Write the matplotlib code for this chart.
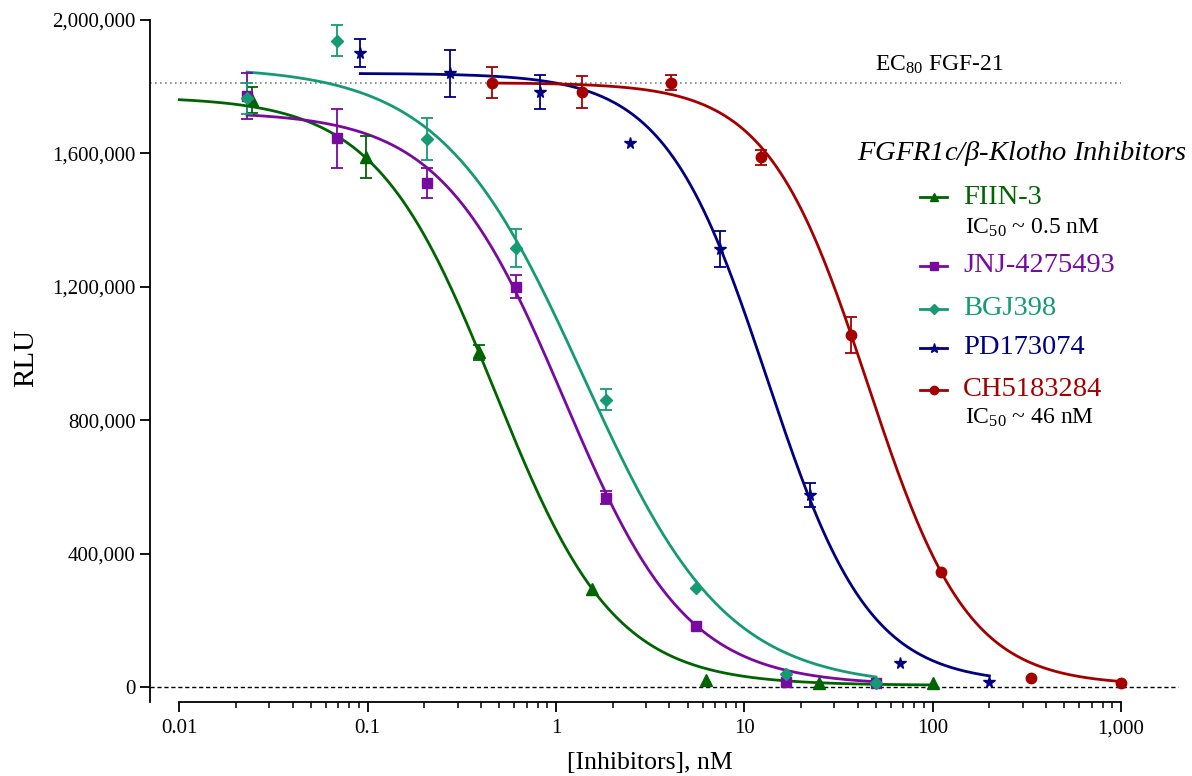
import numpy as np
import matplotlib.pyplot as plt
from matplotlib.lines import Line2D
from matplotlib.ticker import FixedLocator, FuncFormatter, NullFormatter

plt.rcParams['font.family'] = ['Liberation Serif', 'DejaVu Serif']
plt.rcParams['mathtext.fontset'] = 'custom'
plt.rcParams['mathtext.rm'] = 'Liberation Serif'
plt.rcParams['mathtext.it'] = 'Liberation Serif:italic'

## Data (concentration in nM, signal in RLU, +/- SEM)
nan = np.nan
names = ['FIIN-3', 'JNJ-4275493', 'BGJ398', 'PD173074', 'CH5183284']

fiin_x = [0.0244, 0.0977, 0.39, 1.5625, 6.25, 25, 100]
fiin_y = [1760000, 1590000, 1003000, 294000, 21000, 13000, 11000]
fiin_err = [38000, 63000, 23000, nan, nan, nan, nan]

jnj_x = [0.0229, 0.0686, 0.206, 0.617, 1.85, 5.56, 16.7, 50]
jnj_y = [1772000, 1645000, 1510000, 1200000, 568000, 183000, 14000, 13000]
jnj_err = [70000, 88000, 45000, 35000, 20000, nan, nan, nan]

bgj_x = [0.0229, 0.0686, 0.206, 0.617, 1.85, 5.56, 16.7, 50]
bgj_y = [1765000, 1938000, 1644000, 1315000, 862000, 296000, 39000, 13000]
bgj_err = [47000, 46000, 63000, 57000, 31000, nan, nan, nan]

pd_x = [0.0914, 0.274, 0.823, 2.47, 7.4, 22.2, 66.7, 200]
pd_y = [1902000, 1840000, 1784000, 1630000, 1313000, 576000, 71000, 16000]
pd_err = [42000, 70000, 51000, nan, 54000, 36000, nan, nan]

ch_x = [0.457, 1.37, 4.1, 12.3, 37, 111, 333, 1000]
ch_y = [1812000, 1784000, 1812000, 1588000, 1055000, 344000, 28000, 13000]
ch_err = [46000, 48000, 23000, 23000, 54000, nan, nan, nan]

## 4-parameter logistic fits (top, bottom, IC50, hill) and fitted range
fiin_fit = [1770000, 5000, 0.473, 1.368]
jnj_fit = [1725000, 5000, 1.1, 1.33]
bgj_fit = [1860000, 0, 1.4, 1.15]
pd_fit = [1840000, 10000, 13.2, 1.6]
ch_fit = [1812000, 5000, 45.2, 1.63]
fit_range = [(0.01, 100), (0.0229, 50), (0.0229, 50), (0.0914, 200), (0.457, 1000)]

ec80 = 1812000
ic50_notes = ['IC$_{50}$ ~ 0.5 nM', 'IC$_{50}$ ~ 46 nM']

colors = ['#006400', '#780AA0', '#159B73', '#000080', '#A50000']
markers = ['^', 's', 'D', '*', 'o']
msizes = [8, 7, 6, 8.5, 7.5]

xs = [fiin_x, jnj_x, bgj_x, pd_x, ch_x]
ys = [fiin_y, jnj_y, bgj_y, pd_y, ch_y]
errs = [fiin_err, jnj_err, bgj_err, pd_err, ch_err]
fits = [fiin_fit, jnj_fit, bgj_fit, pd_fit, ch_fit]


def logistic(x, top, bottom, ic50, hill):
    return bottom + (top - bottom) / (1 + (x / ic50) ** hill)


W, H = 1192, 776
fig = plt.figure(figsize=(W / 100, H / 100), dpi=100)
ax = fig.add_axes([150 / W, 1 - 702 / H, (1121 - 150) / W, (702 - 20) / H])


def fx(x):
    return x / W


def fy(y):
    return 1 - y / H


xleft = 0.01 * 10 ** (-29.3 / 188.3)
ax.set_xscale('log')
ax.set_xlim(xleft, 1000)
ax.set_ylim(-45000, 2000000)

## reference lines
ax.plot([xleft, 2000], [0, 0], ls=(0, (3, 2)), color='black', lw=1.0,
        clip_on=False, zorder=1)
ax.plot([xleft, 1000], [ec80, ec80], ls=(0, (1, 2)), color='#808080', lw=1.2,
        zorder=1)
fig.text(fx(875), fy(65), 'EC$_{80}$ FGF-21', fontsize=17, ha='left', va='center')

for i in range(5):
    lo, hi = fit_range[i]
    xc = np.logspace(np.log10(lo), np.log10(hi), 300)
    ax.plot(xc, logistic(xc, *fits[i]), color=colors[i], lw=2.0, zorder=3)
    ax.errorbar(xs[i], ys[i], yerr=errs[i], fmt=markers[i], color=colors[i],
                ms=msizes[i], ecolor=colors[i], elinewidth=1.3, capsize=4.5,
                capthick=1.3, zorder=4, clip_on=False)

## axes styling
for s in ['top', 'right']:
    ax.spines[s].set_visible(False)
ax.spines['left'].set_linewidth(1.3)
ax.spines['bottom'].set_linewidth(1.3)
ax.spines['bottom'].set_bounds(0.01, 1000)

major = [0.01, 0.1, 1, 10, 100, 1000]
minor = [m * d for d in major[:-1] for m in range(2, 10)]
ax.xaxis.set_major_locator(FixedLocator(major))
ax.xaxis.set_minor_locator(FixedLocator(minor))
ax.xaxis.set_minor_formatter(NullFormatter())
ax.set_xticklabels(['0.01', '0.1', '1', '10', '100', '1,000'])
ax.set_yticks(range(0, 2000001, 400000))
ax.yaxis.set_major_formatter(FuncFormatter(lambda v, p: f'{int(v):,}'))
ax.tick_params(which='major', length=7.5, width=1.3, labelsize=15, pad=3)
ax.tick_params(axis='x', which='minor', length=4, width=1.1)
ax.tick_params(axis='x', which='major', pad=5)

fig.text(fx(26), fy(358), 'RLU', fontsize=21, rotation=90, ha='center', va='center')
fig.text(fx(650), fy(763), '[Inhibitors], nM', fontsize=18.5, ha='center', va='center')

## hand-built legend
fig.text(fx(857), fy(154), r'FGFR1c/$\beta$-Klotho Inhibitors', fontsize=20.5,
         style='italic', ha='left', va='center')
rows = [197, 266, 309, 348, 390]
for i in range(5):
    fig.add_artist(Line2D([fx(920), fx(933.5), fx(947)], [fy(rows[i])] * 3,
                          color=colors[i], lw=2.0, marker=markers[i],
                          markevery=[1], ms=msizes[i] * 0.8,
                          transform=fig.transFigure))
    fig.text(fx(963), fy(rows[i]), names[i], color=colors[i], fontsize=20.5,
             ha='left', va='center')
fig.text(fx(965), fy(228), ic50_notes[0], fontsize=17, ha='left', va='center')
fig.text(fx(965), fy(418), ic50_notes[1], fontsize=17, ha='left', va='center')

plt.savefig('out.png', dpi=100)
